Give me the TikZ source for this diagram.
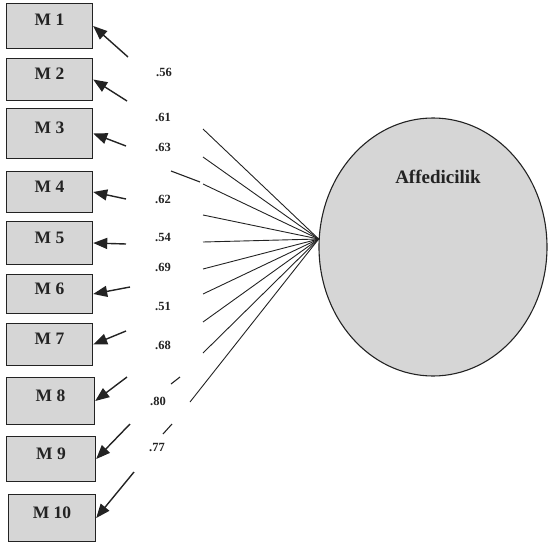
\documentclass[tikz,border=0pt]{standalone}
\usepackage{fontspec}
\setmainfont{Liberation Serif}
\usepackage{xcolor}
\usepackage{tikz}
\usetikzlibrary{shapes.geometric,arrows.meta}
\definecolor{boxgray}{RGB}{214,214,214}
\definecolor{ink}{RGB}{35,35,35}

\begin{document}
\begin{tikzpicture}[x=1pt,y=-1pt,
  mbox/.style={draw=ink,fill=boxgray,line width=1.4pt,minimum width=86,inner sep=0pt,
    text=ink,text height=12pt,text depth=12pt,font=\bfseries\fontsize{17.5}{17.5}\selectfont},
  coef/.style={text=ink,inner sep=1pt,font=\bfseries\fontsize{12.5}{12.5}\selectfont},
  load/.style={draw=ink,line width=0.9pt},
  arr/.style={draw=ink,line width=1.4pt,-{Triangle[length=14pt,width=11pt]}}]
\useasboundingbox (0,0) rectangle (549,543);
%\draw[step=50,black!20] (0,0) grid (549,543);

% latent variable
\node[ellipse,draw=ink,fill=boxgray,line width=1.1pt,inner sep=0pt,
  minimum width=228,minimum height=258] (lat) at (433,247) {};
\node[text=ink,font=\bfseries\fontsize{19}{19}\selectfont] (latname) at (438,177) {Affedicilik};

% items
\node[mbox,minimum height=45] (m1) at (49.5,26) {M 1};
\node[mbox,minimum height=42] (m2) at (49.5,79.5) {M 2};
\node[mbox,minimum height=50] (m3) at (49.5,133.5) {M 3};
\node[mbox,minimum height=41] (m4) at (49.5,192) {M 4};
\node[mbox,minimum height=43] (m5) at (49.5,243) {M 5};
\node[mbox,minimum height=39] (m6) at (49.5,294) {M 6};
\node[mbox,minimum height=42] (m7) at (49.5,344.5) {M 7};
\node[mbox,minimum height=47,minimum width=88] (m8) at (50.5,401) {M 8};
\node[mbox,minimum height=45,minimum width=89] (m9) at (51,459) {M 9};
\node[mbox,minimum height=47,minimum width=87] (m10) at (52,518) {M 10};

% loadings
\node[coef] (l1) at (164,72) {.56};
\node[coef] (l2) at (163,117) {.61};
\node[coef] (l3) at (163,147) {.63};
\node[coef] (l4) at (163,199) {.62};
\node[coef] (l5) at (163,237) {.54};
\node[coef] (l6) at (163,267) {.69};
\node[coef] (l7) at (163,306) {.51};
\node[coef] (l8) at (163,345) {.68};
\node[coef] (l9) at (158,401) {.80};
\node[coef] (l10) at (157,447) {.77};

% line ends and arrow tails
\coordinate (e1) at (203,129);
\coordinate (e2) at (203,157);
\coordinate (e3) at (203,184);
\coordinate (e4) at (203,215);
\coordinate (e5) at (203,242);
\coordinate (e6) at (203,269);
\coordinate (e7) at (203,294);
\coordinate (e8) at (203,322);
\coordinate (e9) at (203,353);
\coordinate (e10) at (190,402);
\coordinate (f1a) at (171,171);
\coordinate (f1b) at (200,182);
\coordinate (f2a) at (171,384);
\coordinate (f2b) at (180,377);
\coordinate (f3a) at (163,434);
\coordinate (f3b) at (172,424);

\coordinate (t1) at (128,57);
\coordinate (t2) at (127,101);
\coordinate (t3) at (126,146);
\coordinate (t4) at (126,199);
\coordinate (t5) at (126,244);
\coordinate (t6) at (130,287);
\coordinate (t7) at (126,331);
\coordinate (t8) at (127,377);
\coordinate (t9) at (130,424);
\coordinate (t10) at (134,472);

\draw[load] (lat.176) -- (e1);
\draw[load] (lat.176) -- (e2);
\draw[load] (lat.176) -- (e3);
\draw[load] (lat.176) -- (e4);
\draw[load] (lat.176) -- (e5);
\draw[load] (lat.176) -- (e6);
\draw[load] (lat.176) -- (e7);
\draw[load] (lat.176) -- (e8);
\draw[load] (lat.176) -- (e9);
\draw[load] (lat.176) -- (e10);
\draw[load,line width=1.1pt] (f1a) -- (f1b);
\draw[load,line width=1.1pt] (f2a) -- (f2b);
\draw[load,line width=1.1pt] (f3a) -- (f3b);

\draw[arr] (t1) -- (m1.east);
\draw[arr] (t2) -- (m2.east);
\draw[arr] (t3) -- (m3.east);
\draw[arr] (t4) -- (m4.east);
\draw[arr] (t5) -- (m5.east);
\draw[arr] (t6) -- (m6.east);
\draw[arr] (t7) -- (m7.east);
\draw[arr] (t8) -- (m8.east);
\draw[arr] (t9) -- (m9.east);
\draw[arr] (t10) -- (m10.east);
\end{tikzpicture}
\end{document}
